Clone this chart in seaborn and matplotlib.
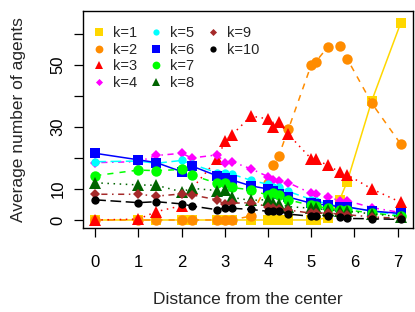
import matplotlib
matplotlib.use("Agg")
import matplotlib.pyplot as plt
from matplotlib.lines import Line2D
import seaborn as sns

# distances of the grid cells from the center
distance = [0, 1, 1.414, 2, 2.236, 2.828, 3, 3.162, 3.606, 4, 4.123, 4.243,
            4.472, 5, 5.099, 5.385, 5.657, 5.831, 6.403, 7.071]

k1 = [0, 0, 0, 0, 0, 0, 0, 0, 0, 0, 0, 0, 0, 0, 0, 0.8, 6.5, 12.3, 38.5, 63.5]
k2 = [0, 0, 0, 0, 0, 0, 0, 0, 1.3, 12.0, 17.7, 20.5, 29.3, 50.0, 50.9, 55.8, 56.2, 52.0, 37.6, 24.5]
k3 = [0, 0.3, 2.7, 4.6, 10.1, 19.6, 25.4, 27.4, 33.5, 32.6, 30.1, 31.7, 27.6, 19.7, 19.6, 17.6, 15.5, 14.6, 10.0, 5.7]
k4 = [18.5, 18.8, 20.8, 21.5, 20.0, 21.0, 18.5, 18.8, 16.5, 14.0, 13.0, 12.5, 12.0, 8.6, 8.3, 7.5, 6.2, 6.2, 4.0, 2.4]
k5 = [18.8, 19.0, 18.3, 19.2, 18.0, 15.2, 15.0, 14.8, 12.8, 11.5, 10.8, 10.5, 9.2, 6.6, 6.2, 5.2, 4.3, 4.1, 2.9, 1.6]
k6 = [21.5, 19.4, 18.5, 15.6, 17.4, 14.2, 13.4, 12.9, 11.0, 10.0, 9.2, 8.5, 7.4, 5.4, 5.2, 4.8, 4.3, 4.2, 2.9, 2.1]
k7 = [14.3, 16.1, 15.9, 16.3, 14.5, 11.8, 12.0, 10.5, 9.7, 8.0, 8.6, 8.0, 6.5, 4.7, 4.5, 3.8, 3.3, 3.2, 2.3, 1.2]
k8 = [12.0, 11.3, 11.2, 9.1, 10.2, 9.5, 9.6, 7.3, 6.3, 6.6, 5.5, 5.2, 4.3, 3.8, 3.8, 3.2, 3.0, 2.8, 2.0, 1.0]
k9 = [8.3, 8.3, 7.7, 8.4, 8.1, 6.5, 5.0, 5.4, 5.6, 4.3, 3.9, 3.6, 3.2, 2.2, 2.1, 2.4, 1.8, 1.7, 1.0, 0.5]
k10 = [6.5, 5.6, 5.9, 5.2, 4.5, 3.3, 3.9, 3.8, 3.4, 2.8, 2.8, 2.8, 1.9, 1.2, 1.2, 1.4, 1.1, 0.5, 0.4, 0.2]

series = [k1, k2, k3, k4, k5, k6, k7, k8, k9, k10]
labels = ["k=%d" % i for i in range(1, 11)]
colors = ["#FFD700", "#FF8C00", "#FF0000", "#FF00FF", "#00FFFF",
          "#0000FF", "#00FF00", "#006400", "#A52A2A", "#000000"]
markers = ["s", "o", "^", "D", "o", "s", "o", "^", "D", "o"]
msizes = [7.3, 7.5, 8.3, 4.8, 6, 7.3, 7.5, 8.3, 4.8, 6]
dashes = ["-", (0, (4, 4)), (0, (1, 3)), (0, (1, 3, 4, 3)), (0, (7, 3)),
          "-", (0, (4, 4)), (0, (1, 3)), (0, (1, 3, 4, 3)), (0, (7, 3))]

sns.set_theme(style="ticks")
plt.rcParams["font.family"] = ["Liberation Sans", "DejaVu Sans"]

fig = plt.figure(figsize=(4.15, 3.12), dpi=100)
ax = fig.add_axes([0.2, 0.269, 0.795, 0.696])

for vals, lab, c, m, ms, ls in zip(series, labels, colors, markers, msizes, dashes):
    sns.lineplot(x=distance, y=vals, ax=ax, color=c, marker=m, markersize=ms,
                 linestyle=ls, linewidth=1.1, markeredgewidth=0,
                 markeredgecolor=c, sort=False, legend=False)

ax.set_xlim(-0.283, 7.354)
ax.set_ylim(-2.6, 67.4)
ax.set_xticks(range(8))
ax.set_yticks([0, 10, 20, 30, 40, 50, 60])
ax.set_yticklabels(["0", "10", "", "30", "", "50", ""], rotation=90, va="center")
ax.tick_params(axis="x", length=6.5, width=0.9, pad=13, labelsize=12, colors="black")
ax.tick_params(axis="y", length=6.5, width=0.9, pad=6, labelsize=12, colors="black")
for s in ax.spines.values():
    s.set_visible(True)
    s.set_linewidth(1.0)
    s.set_color("black")

ax.set_xlabel("Distance from the center", fontsize=12.5, labelpad=16)
ax.set_ylabel("Average number of agents", fontsize=12.5, labelpad=18)

# legend: four rows, filled column by column, two empty slots at the end
handles = [Line2D([], [], linestyle="none", marker=m, color=c, markersize=ms * 0.75,
                  markeredgewidth=0)
           for c, m, ms in zip(colors, markers, msizes)]
blank = Line2D([], [], linestyle="none")
ax.legend(handles + [blank, blank], labels + ["", ""], ncol=3, loc="upper left",
          bbox_to_anchor=(0.027, 0.93), frameon=False, fontsize=10.5, borderpad=0,
          borderaxespad=0, handlelength=1.0, handletextpad=0.46, columnspacing=0.8,
          labelspacing=0.18)

fig.savefig("out.png", dpi=100)
